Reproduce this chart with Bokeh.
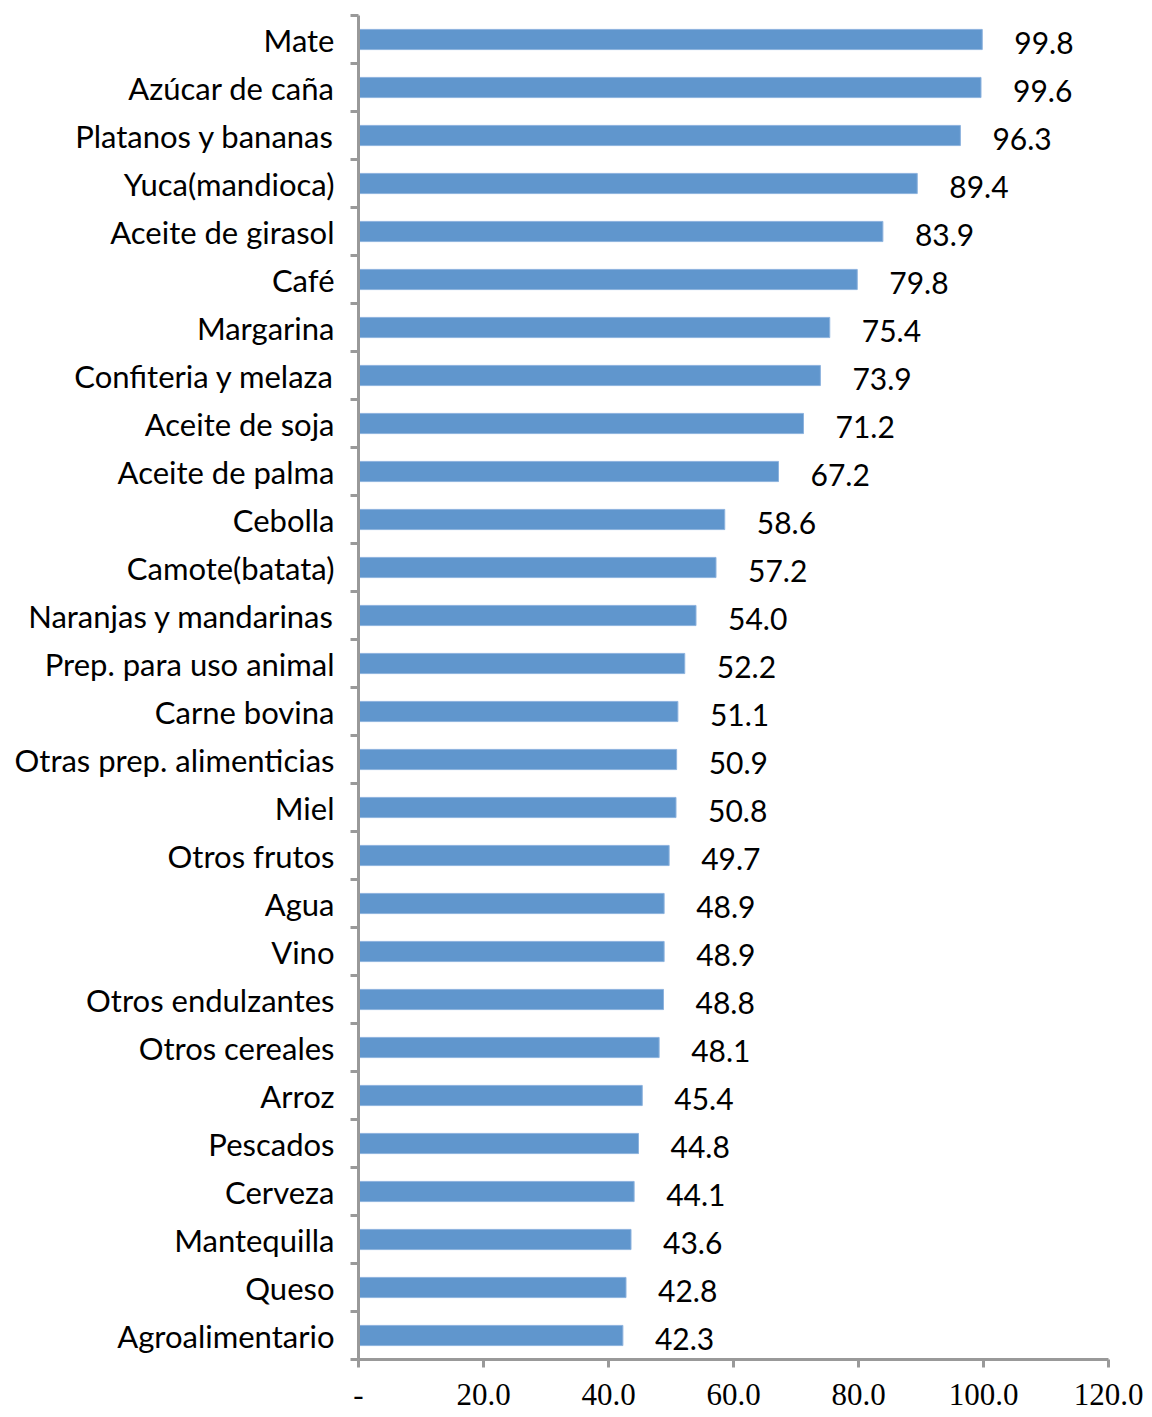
from bokeh.plotting import figure
from bokeh.models import FixedTicker, ColumnDataSource
from bokeh.embed import file_html
from bokeh.resources import INLINE
from bokeh.core.properties import value

categories = [
    "Mate", "Azúcar de caña", "Platanos y bananas", "Yuca(mandioca)",
    "Aceite de girasol", "Café", "Margarina", "Confiteria y melaza",
    "Aceite de soja", "Aceite de palma", "Cebolla", "Camote(batata)",
    "Naranjas y mandarinas", "Prep. para uso animal", "Carne bovina",
    "Otras prep. alimenticias", "Miel", "Otros frutos", "Agua", "Vino",
    "Otros endulzantes", "Otros cereales", "Arroz", "Pescados", "Cerveza",
    "Mantequilla", "Queso", "Agroalimentario",
]
values = [
    99.8, 99.6, 96.3, 89.4, 83.9, 79.8, 75.4, 73.9, 71.2, 67.2, 58.6, 57.2,
    54.0, 52.2, 51.1, 50.9, 50.8, 49.7, 48.9, 48.9, 48.8, 48.1, 45.4, 44.8,
    44.1, 43.6, 42.8, 42.3,
]
x_ticks = [0, 20, 40, 60, 80, 100, 120]
x_tick_labels = ["-", "20.0", "40.0", "60.0", "80.0", "100.0", "120.0"]

n = len(categories)
ypos = [n - 1 - i for i in range(n)]
src = ColumnDataSource(dict(
    y=ypos, v=values, lbl=["%.1f" % v for v in values], cat=categories,
))

AXIS = "#999999"
SANS = "Lato"

p = figure(
    width=1152, height=1417,
    x_range=(x_ticks[0], x_ticks[-1]), y_range=(-0.5, n - 0.5),
    output_backend="svg", toolbar_location=None,
    min_border_left=358, min_border_right=44,
    min_border_top=15, min_border_bottom=58,
)
p.outline_line_color = None
p.grid.visible = False

p.hbar(y="y", left=0, right="v", height=0.42, source=src,
       fill_color="#6096CD", line_color="#8DB3DE", line_width=1)
p.text(x="v", y="y", text="lbl", source=src, x_offset=32, y_offset=3,
       text_align="left", text_baseline="middle",
       text_font=value(SANS), text_font_size="30px", text_color="black")

# y axis
yax = p.yaxis[0]
yax.ticker = FixedTicker(ticks=ypos, minor_ticks=[k - 0.5 for k in range(n + 1)])
yax.major_label_overrides = {y: c for y, c in zip(ypos, categories)}
yax.major_tick_out = 0
yax.major_tick_in = 0
yax.minor_tick_out = 8
yax.minor_tick_in = 0
yax.minor_tick_line_color = AXIS
yax.minor_tick_line_width = 3
yax.axis_line_color = AXIS
yax.axis_line_width = 3
yax.major_label_standoff = 16
yax.major_label_text_font = SANS
yax.major_label_text_font_size = "31px"
yax.major_label_text_color = "black"

# x axis
xax = p.xaxis[0]
xax.ticker = FixedTicker(ticks=x_ticks, minor_ticks=[])
xax.major_label_overrides = {t: l for t, l in zip(x_ticks, x_tick_labels)}
xax.major_tick_out = 8
xax.major_tick_in = 0
xax.major_tick_line_color = AXIS
xax.major_tick_line_width = 3
xax.minor_tick_line_color = None
xax.axis_line_color = AXIS
xax.axis_line_width = 3
xax.major_label_standoff = 16
xax.major_label_text_font = "Liberation Serif"
xax.major_label_text_font_size = "31px"
xax.major_label_text_color = "black"

open("out.html", "w").write(file_html(p, INLINE))
